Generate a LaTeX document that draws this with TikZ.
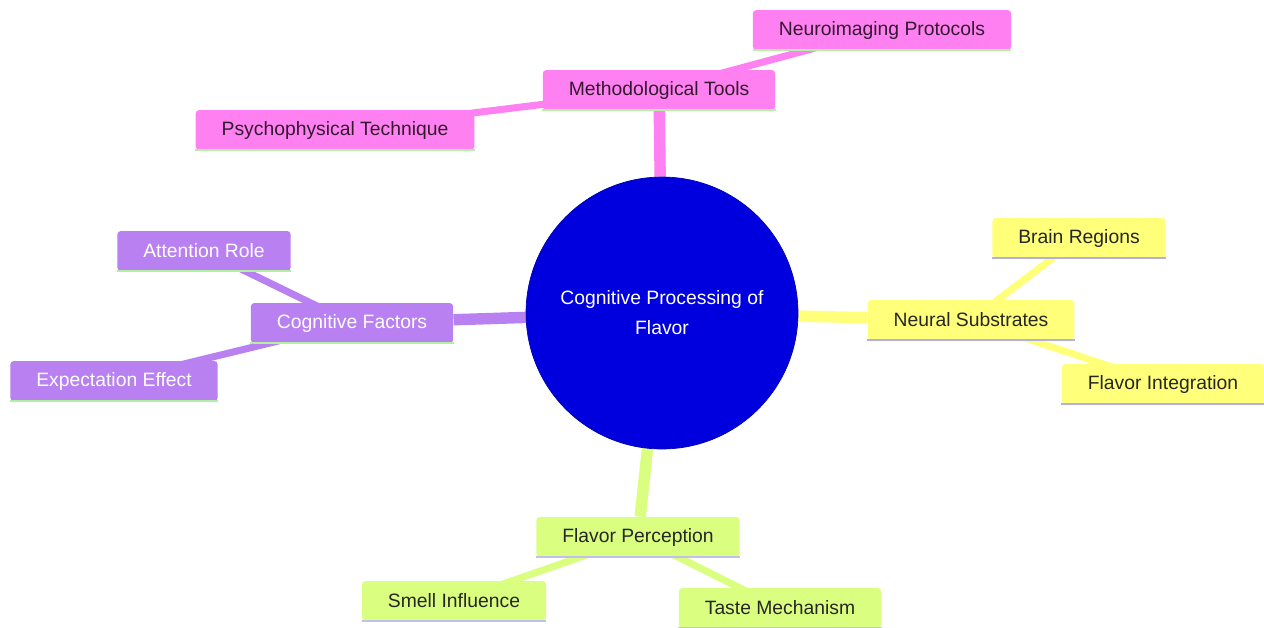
\documentclass[tikz,border=0pt]{standalone}
\usepackage{fontspec}
\setmainfont{Liberation Sans}
\usetikzlibrary{backgrounds}
\definecolor{rose}{RGB}{255,128,240}
\definecolor{lilas}{RGB}{184,128,240}
\definecolor{citron}{RGB}{255,255,122}
\definecolor{pomme}{RGB}{218,255,128}
\definecolor{bleu}{RGB}{0,0,222}
\definecolor{vertpale}{RGB}{176,240,160}
\definecolor{mauve}{RGB}{176,176,228}
\begin{document}
\begin{tikzpicture}[x=0.02cm, y=-0.02cm,
  feuille/.style 2 args={fill=#1, rounded corners=2pt, minimum height=0.8cm,
    inner xsep=0.52cm, font=\fontsize{11}{13}\selectfont,
    append after command={(\tikzlastnode.south west) edge[draw=#2, line width=1.2pt]
      (\tikzlastnode.south east)}},
  branche/.style={line width=6.5pt, draw=#1},
  brin/.style={line width=4pt, draw=#1}]
\useasboundingbox (0,0) rectangle (1264,627);
%
\node[circle, fill=bleu, draw=bleu!80!black, minimum size=5.44cm, text=white,
  align=center, font=\fontsize{11}{17}\selectfont] (centre) at (662,313)
  {Cognitive Processing of\\Flavor};
%
\node[feuille={rose}{vertpale}, text=black!80!rose] (outils) at (659,90) {Methodological Tools};
\node[feuille={rose}{vertpale}, text=black!80!rose] (neuro) at (882,30) {Neuroimaging Protocols};
\node[feuille={rose}{vertpale}, text=black!80!rose] (psycho) at (335,130) {Psychophysical Technique};
%
\node[feuille={lilas}{vertpale}, text=white] (cognitif) at (352,323) {Cognitive Factors};
\node[feuille={lilas}{vertpale}, text=white] (attention) at (204,251) {Attention Role};
\node[feuille={lilas}{vertpale}, text=white] (attente) at (114,381) {Expectation Effect};
%
\node[feuille={citron}{mauve}, text=black!85] (neural) at (971,320) {Neural Substrates};
\node[feuille={citron}{mauve}, text=black!85] (cerveau) at (1079,238) {Brain Regions};
\node[feuille={citron}{mauve}, text=black!85] (integration) at (1163,384) {Flavor Integration};
%
\node[feuille={pomme}{mauve!80!white}, text=black!85] (perception) at (638,537) {Flavor Perception};
\node[feuille={pomme}{mauve!80!white}, text=black!85] (odeur) at (454,601) {Smell Influence};
\node[feuille={pomme}{mauve!80!white}, text=black!85] (gout) at (780,608) {Taste Mechanism};
%
\begin{pgfonlayer}{background}
\draw[branche=rose] (centre) -- (outils);
\draw[brin=rose] (outils.center) -- (neuro.center);
\draw[brin=rose] (outils.center) -- (psycho.center);
\draw[branche=lilas] (centre) -- (cognitif);
\draw[brin=lilas] (cognitif.center) -- (attention.center);
\draw[brin=lilas] (cognitif.center) -- (attente.center);
\draw[branche=citron] (centre) -- (neural);
\draw[brin=citron] (neural.center) -- (cerveau.center);
\draw[brin=citron] (neural.center) -- (integration.center);
\draw[branche=pomme] (centre) -- (perception);
\draw[brin=pomme] (perception.center) -- (odeur.center);
\draw[brin=pomme] (perception.center) -- (gout.center);
\end{pgfonlayer}
\end{tikzpicture}
\end{document}
